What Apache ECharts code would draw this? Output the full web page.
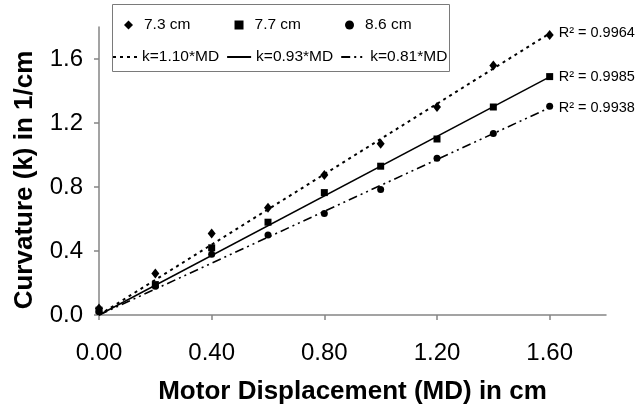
<!DOCTYPE html>
<html>
<head>
<meta charset="utf-8">
<script src="https://cdn.jsdelivr.net/npm/echarts@6/dist/echarts.min.js"></script>
<style>
  html, body { margin: 0; padding: 0; background: #fff; }
  #chart { width: 639px; height: 408px; }
</style>
</head>
<body>
<div id="chart"></div>
<script>
// Motor displacement steps (cm)
var displacement = [0, 0.2, 0.4, 0.6, 0.8, 1.0, 1.2, 1.4, 1.6];

// Measured curvature (1/cm) for each actuator length
var curv73 = [0.04, 0.26, 0.51, 0.67, 0.875, 1.07, 1.30, 1.56, 1.75];
var curv77 = [0.03, 0.19, 0.42, 0.58, 0.765, 0.93, 1.10, 1.30, 1.49];
var curv86 = [0.02, 0.18, 0.38, 0.50, 0.635, 0.785, 0.98, 1.135, 1.305];

var lengthNames = ['7.3 cm', '7.7 cm', '8.6 cm'];

// Linear fits k = slope * MD and their coefficients of determination
var fitSlopes = [1.10, 0.93, 0.81];
var fitNames = ['k=1.10*MD', 'k=0.93*MD', 'k=0.81*MD'];
var rSquared = ['0.9964', '0.9985', '0.9938'];
var fitRange = [0, 1.6];

// Axis tick values
var xTicks = [0, 0.4, 0.8, 1.2, 1.6];
var yTicks = [0, 0.4, 0.8, 1.2, 1.6];

var FONT = '"Liberation Sans", Arial, sans-serif';
var AXIS_GREY = '#858585';

function pairs(xs, ys) {
  return xs.map(function (x, i) { return [x, ys[i]]; });
}

var measured = [curv73, curv77, curv86];
var symbols = ['diamond', 'rect', 'circle'];
var symbolSizes = [[8, 10], 7, 7];
var dashes = [[3, 4], 'solid', [9, 4, 2, 4, 2, 4]];
var widths = [2, 1.5, 1.6];

var series = [];

fitSlopes.forEach(function (s, i) {
  series.push({
    name: fitNames[i],
    type: 'line',
    symbol: 'none',
    silent: true,
    z: 2,
    data: fitRange.map(function (x) { return [x, s * x]; }),
    lineStyle: { color: '#000', width: widths[i], type: dashes[i] },
    itemStyle: { color: '#000' },
    endLabel: {
      show: true,
      distance: 9,
      formatter: 'R\u00B2 = ' + rSquared[i],
      fontFamily: FONT,
      fontSize: 14.5,
      color: '#000'
    }
  });
});

measured.forEach(function (vals, i) {
  series.push({
    name: lengthNames[i],
    type: 'scatter',
    symbol: symbols[i],
    symbolSize: symbolSizes[i],
    z: 5,
    data: pairs(displacement, vals),
    itemStyle: { color: '#000', opacity: 1 }
  });
});

var chart = echarts.init(document.getElementById('chart'), null, { renderer: 'canvas' });

chart.setOption({
  animation: false,
  backgroundColor: '#fff',
  textStyle: { fontFamily: FONT },
  grid: { left: 99, right: 33, top: 27, bottom: 93, outerBoundsMode: 'none', containLabel: false },
  graphic: [{
    type: 'rect',
    left: 112, top: 4,
    shape: { width: 337, height: 67 },
    style: { fill: '#fff', stroke: '#7a7a7a', lineWidth: 1 },
    z: 10
  }],
  legend: [{
    // marker keys for the measured lengths
    data: lengthNames.map(function (n, i) { return { name: n, icon: symbols[i] }; }),
    left: 124, top: 17,
    padding: 0,
    itemWidth: 9, itemHeight: 9, itemGap: 44,
    textStyle: { fontFamily: FONT, fontSize: 15.5, color: '#000', padding: [0, 0, 0, 6] },
    z: 11
  }, {
    // line keys for the fits (line only, no marker)
    data: fitNames,
    left: 112, top: 49,
    padding: 0,
    itemWidth: 24, itemHeight: 10, itemGap: 7,
    itemStyle: { color: 'rgba(0,0,0,0)', borderColor: 'rgba(0,0,0,0)', borderWidth: 0, opacity: 0 },
    textStyle: { fontFamily: FONT, fontSize: 15.5, color: '#000' },
    z: 11
  }],
  xAxis: {
    type: 'value',
    min: 0, max: 1.8, interval: 0.4,
    name: 'Motor Displacement (MD) in cm',
    nameLocation: 'middle',
    nameGap: 64,
    nameTextStyle: { fontFamily: FONT, fontSize: 26, fontWeight: 'bold', color: '#000' },
    axisLine: { show: true, lineStyle: { color: AXIS_GREY, width: 1.5 } },
    axisTick: { show: true, inside: false, length: 5, customValues: xTicks,
                lineStyle: { color: AXIS_GREY, width: 1.5 } },
    axisLabel: { customValues: xTicks, margin: 26, fontFamily: FONT, fontSize: 24, color: '#000',
                 formatter: function (v) { return v.toFixed(2); } },
    splitLine: { show: false }
  },
  yAxis: {
    type: 'value',
    min: 0, max: 1.8, interval: 0.4,
    name: 'Curvature (k) in 1/cm',
    nameLocation: 'middle',
    nameGap: 61,
    nameTextStyle: { fontFamily: FONT, fontSize: 26, fontWeight: 'bold', color: '#000',
                     padding: [0, 18, 0, 0] },
    axisLine: { show: true, lineStyle: { color: AXIS_GREY, width: 1.5 } },
    axisTick: { show: true, inside: false, length: 5, customValues: yTicks,
                lineStyle: { color: AXIS_GREY, width: 1.5 } },
    axisLabel: { customValues: yTicks, margin: 16, fontFamily: FONT, fontSize: 24, color: '#000',
                 formatter: function (v) { return v.toFixed(1); } },
    splitLine: { show: false }
  },
  series: series
});
</script>
</body>
</html>
